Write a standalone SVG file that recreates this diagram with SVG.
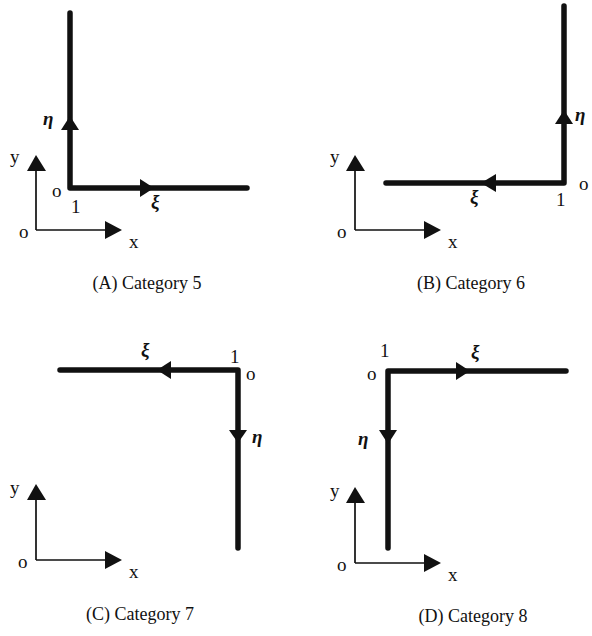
<svg xmlns="http://www.w3.org/2000/svg" width="592" height="636" viewBox="0 0 592 636">
<style>
.thick{fill:none;stroke:#111;stroke-width:5.5;stroke-linecap:round;stroke-linejoin:round}
.thin{fill:none;stroke:#111;stroke-width:1.7}
.ah{fill:#111}
.lbl{font-family:"Liberation Serif","Times New Roman",serif;font-size:19px;fill:#111}
.gr{font-family:"Liberation Serif","Times New Roman",serif;font-size:19px;font-style:italic;font-weight:bold;fill:#111}
.cap{font-family:"Liberation Serif","Times New Roman",serif;font-size:18px;fill:#111;text-anchor:middle}
</style>
<rect width="592" height="636" fill="#fff"/>
<g id="connectors">
  <!-- A -->
  <path class="thick" d="M70,13 V188 H247"/>
  <polygon class="ah" points="70,116 61,130 79,130"/>
  <polygon class="ah" points="154,188 140,179 140,197"/>
  <path class="thin" d="M36,230 V168 M36,230 H107"/>
  <polygon class="ah" points="36,155 27,171 46,171"/>
  <polygon class="ah" points="122,230 105,221 105,239"/>
  <!-- B -->
  <path class="thick" d="M564,6 V183 H386"/>
  <polygon class="ah" points="564,110 555,124 573,124"/>
  <polygon class="ah" points="481,183 496,174 496,192"/>
  <path class="thin" d="M355,230 V168 M355,230 H426"/>
  <polygon class="ah" points="355,155 346,171 365,171"/>
  <polygon class="ah" points="441,230 424,221 424,239"/>
  <!-- C -->
  <path class="thick" d="M60,370 H238 V548"/>
  <polygon class="ah" points="157,370 171,361 171,379"/>
  <polygon class="ah" points="238,443 229,430 247,430"/>
  <path class="thin" d="M36,560 V498 M36,560 H107"/>
  <polygon class="ah" points="36,484 27,500 46,500"/>
  <polygon class="ah" points="122,560 105,551 105,569"/>
  <!-- D -->
  <path class="thick" d="M566,371 H388 V548"/>
  <polygon class="ah" points="470,371 456,362 456,380"/>
  <polygon class="ah" points="388,444 379,430 397,430"/>
  <path class="thin" d="M355,563 V501 M355,563 H426"/>
  <polygon class="ah" points="355,487 346,503 365,503"/>
  <polygon class="ah" points="441,563 424,554 424,572"/>
</g>
<g id="panelA">
  <text class="gr" x="43" y="125">η</text>
  <text class="gr" x="151" y="208">ξ</text>
  <text class="lbl" x="52" y="197">o</text>
  <text class="lbl" x="71" y="213">1</text>
  <text class="lbl" x="10" y="163">y</text>
  <text class="lbl" x="19" y="238">o</text>
  <text class="lbl" x="129" y="248">x</text>
  <text class="cap" x="147" y="289">(A) Category 5</text>
</g>
<g id="panelB">
  <text class="gr" x="575" y="121">η</text>
  <text class="gr" x="470" y="203">ξ</text>
  <text class="lbl" x="579" y="190">o</text>
  <text class="lbl" x="556" y="206">1</text>
  <text class="lbl" x="330" y="163">y</text>
  <text class="lbl" x="337" y="238">o</text>
  <text class="lbl" x="448" y="248">x</text>
  <text class="cap" x="471" y="289">(B) Category 6</text>
</g>
<g id="panelC">
  <text class="gr" x="141" y="356">ξ</text>
  <text class="gr" x="252" y="443">η</text>
  <text class="lbl" x="246" y="380">o</text>
  <text class="lbl" x="230" y="363">1</text>
  <text class="lbl" x="10" y="494">y</text>
  <text class="lbl" x="18" y="568">o</text>
  <text class="lbl" x="129" y="578">x</text>
  <text class="cap" x="140" y="620">(C) Category 7</text>
</g>
<g id="panelD">
  <text class="gr" x="471" y="358">ξ</text>
  <text class="gr" x="358" y="445">η</text>
  <text class="lbl" x="367" y="380">o</text>
  <text class="lbl" x="380" y="357">1</text>
  <text class="lbl" x="330" y="497">y</text>
  <text class="lbl" x="337" y="571">o</text>
  <text class="lbl" x="448" y="581">x</text>
  <text class="cap" x="473" y="622">(D) Category 8</text>
</g>
</svg>
